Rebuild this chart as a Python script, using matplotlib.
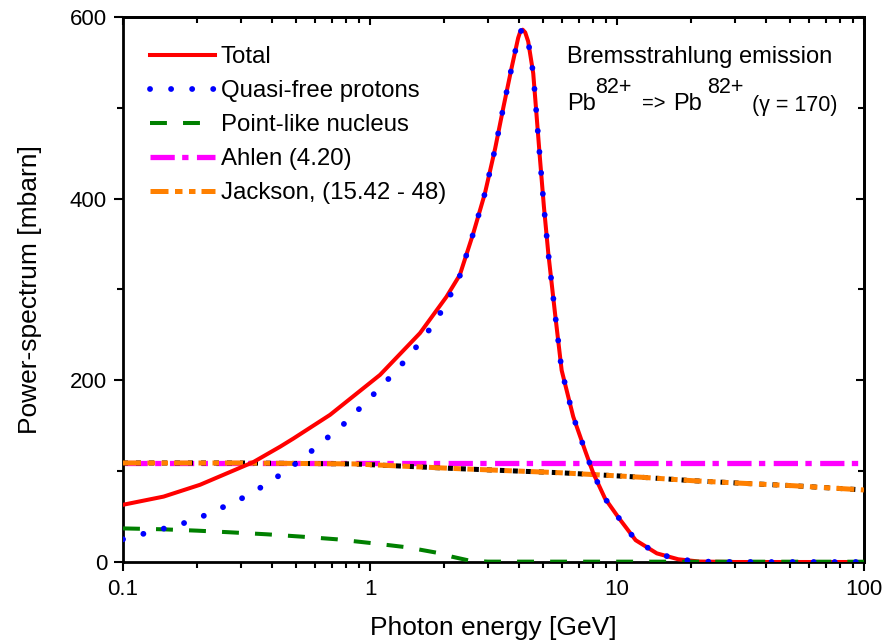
import matplotlib
matplotlib.use("Agg")
import matplotlib.pyplot as plt
from matplotlib.ticker import FixedLocator, NullFormatter, FixedFormatter

plt.rcParams['font.family'] = ['Liberation Sans', 'DejaVu Sans']

# ---- data ----
x_total = [0.1, 0.146, 0.205, 0.337, 0.433, 0.49, 0.689, 1.098, 1.594, 2.04, 2.31,
           2.62, 2.92, 3.21, 3.47, 3.75, 3.98, 4.06, 4.15, 4.25, 4.37, 4.58, 4.73,
           4.88, 5.06, 5.27, 5.61, 5.97, 6.65, 7.42, 8.01, 8.94, 10.2, 11.9, 14.5,
           17.7, 21.5, 30, 50, 100]
y_total = [63, 72, 85, 110, 127, 136, 162, 206, 252, 292, 316,
           362, 406, 455, 501, 545, 577, 584, 586, 583, 573, 538, 490,
           443, 391, 340, 274, 211, 160, 123, 98, 70, 48, 24, 9.5,
           3, 0.5, 0, 0, 0]

x_qf = [0.1, 0.135, 0.164, 0.2, 0.243, 0.298, 0.361, 0.439, 0.534, 0.647, 0.792,
        0.963, 1.16, 1.39, 1.63, 1.87, 2.09, 2.31,
        2.62, 2.92, 3.21, 3.47, 3.75, 3.98, 4.06, 4.15, 4.25, 4.37, 4.58, 4.73,
        4.88, 5.06, 5.27, 5.61, 5.97, 6.65, 7.42, 8.01, 8.94, 10.2, 11.9, 14.5,
        17.7, 21.5, 30, 50, 100]
y_qf = [25, 34.5, 40, 47.7, 58, 69, 82, 97, 114, 133, 153,
        176, 198.5, 222, 245, 268, 291, 315,
        362, 406, 455, 501, 545, 577, 584, 586, 583, 573, 538, 490,
        443, 391, 340, 274, 211, 160, 123, 98, 70, 48, 24, 9.5,
        3, 0.5, 0, 0, 0]

x_point = [0.1, 0.145, 0.2, 0.271, 0.382, 0.529, 0.733, 1.03, 1.41, 1.92, 2.15,
           2.54, 3.0, 100]
y_point = [37, 36, 34.5, 32.7, 30.5, 27.9, 25, 20.6, 16.2, 9.6, 5.8,
           1.4, 0.4, 0.3]

x_ahlen = [0.1, 100]
y_ahlen = [109, 109]

x_jackson = [0.1, 0.3, 0.858, 2.17, 4.05, 5.85, 10.2, 12.7, 20.3, 32.5, 51.6, 100]
y_jackson = [109, 109, 108, 103, 100, 98.3, 94.7, 93.2, 89.5, 86.6, 84, 79.3]

x_ticks_major = [0.1, 1, 10, 100]
x_tick_labels = ['0.1', '1', '10', '100']
y_ticks_major = [0, 200, 400, 600]
y_ticks_minor = [100, 300, 500]

W, H = 883, 643
fig = plt.figure(figsize=(W / 100, H / 100), dpi=100)
ax = fig.add_axes([123 / W, 1 - 562 / H, (864 - 123) / W, (562 - 17) / H])
ax.set_xscale('log')
ax.set_xlim(0.1, 100)
ax.set_ylim(0, 600)

ax.plot(x_ahlen, y_ahlen, color='#ff00ff', lw=3.8, dashes=(4.6, 1.4, 1.2, 1.6),
        label='Ahlen (4.20)', zorder=2)
ax.plot(x_jackson, y_jackson, color='black', lw=3.6, dashes=(1.0, 1.6), zorder=3)
ax.plot(x_jackson, y_jackson, color='#ff8000', lw=3.6,
        dashes=(3.6, 1.3, 1.5, 1.3, 1.3, 1.2), label='Jackson, (15.42 - 48)', zorder=4)
ax.plot(x_total, y_total, color='#ff0000', lw=2.9, label='Total', zorder=5)
ax.plot(x_point, y_point, color='#008000', lw=2.9, dashes=(4.2, 4.0),
        label='Point-like nucleus', zorder=6)
ax.plot(x_qf, y_qf, color='#0000ff', lw=4.2, linestyle=(0, (0.01, 3.6)),
        dash_capstyle='round', label='Quasi-free protons', zorder=7)

# ticks
ax.xaxis.set_major_locator(FixedLocator(x_ticks_major))
ax.xaxis.set_major_formatter(FixedFormatter(x_tick_labels))
ax.xaxis.set_minor_formatter(NullFormatter())
ax.yaxis.set_major_locator(FixedLocator(y_ticks_major))
ax.yaxis.set_minor_locator(FixedLocator(y_ticks_minor))
ax.tick_params(which='both', direction='out', width=1.5, labelsize=16)
ax.tick_params(axis='x', pad=6)
ax.tick_params(axis='y', pad=5)
ax.tick_params(which='major', length=6.5)
ax.tick_params(which='minor', length=4)
for s in ax.spines.values():
    s.set_linewidth(2.0)

top = ax.secondary_xaxis('top')
top.xaxis.set_major_locator(FixedLocator(x_ticks_major))
top.tick_params(which='both', direction='in', width=1.5, labeltop=False)
top.tick_params(which='major', length=6)
top.tick_params(which='minor', length=4.5)
top.xaxis.set_minor_formatter(NullFormatter())
top.spines['top'].set_linewidth(2.0)

right = ax.secondary_yaxis('right')
right.yaxis.set_major_locator(FixedLocator(y_ticks_major))
right.yaxis.set_minor_locator(FixedLocator(y_ticks_minor))
right.tick_params(which='both', direction='in', width=1.5, labelright=False)
right.tick_params(which='major', length=6)
right.tick_params(which='minor', length=4.5)
right.spines['right'].set_linewidth(2.0)

ax.set_xlabel('Photon energy [GeV]', fontsize=19, labelpad=11)
ax.set_ylabel('Power-spectrum [mbarn]', fontsize=19, labelpad=20)

# legend
handles, labels = ax.get_legend_handles_labels()
order = ['Total', 'Quasi-free protons', 'Point-like nucleus', 'Ahlen (4.20)',
         'Jackson, (15.42 - 48)']
hmap = dict(zip(labels, handles))
leg = ax.legend([hmap[l] for l in order], order, loc='upper left',
                bbox_to_anchor=(150 / W, 1 - 46 / H), bbox_transform=fig.transFigure,
                frameon=False, fontsize=17.3, handlelength=2.7, handletextpad=0.25,
                labelspacing=0.5, borderpad=0, borderaxespad=0)

# annotation
def ft(px, py, s, size):
    fig.text(px / W, 1 - py / H, s, fontsize=size, va='baseline', ha='left')

ft(567, 63, 'Bremsstrahlung emission', 17)
ft(567, 110, 'Pb', 17)
ft(595, 93, '82+', 15.5)
ft(642, 110, '=>', 14.5)
ft(673, 110, 'Pb', 17)
ft(707, 93, '82+', 15.5)
ft(752, 111, '(\u03b3 = 170)', 15.5)

fig.savefig('out.png', dpi=100)
